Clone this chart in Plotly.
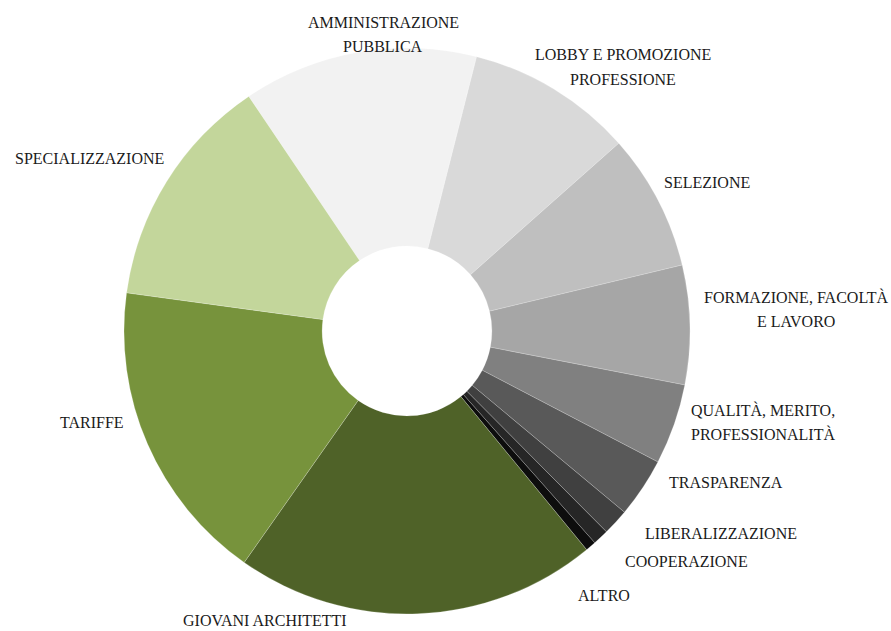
import plotly.graph_objects as go

# Slices, clockwise from "AMMINISTRAZIONE PUBBLICA"
categories = [
    "AMMINISTRAZIONE PUBBLICA",
    "LOBBY E PROMOZIONE PROFESSIONE",
    "SELEZIONE",
    "FORMAZIONE, FACOLTÀ E LAVORO",
    "QUALITÀ, MERITO, PROFESSIONALITÀ",
    "TRASPARENZA",
    "LIBERALIZZAZIONE",
    "COOPERAZIONE",
    "ALTRO",
    "GIOVANI ARCHITETTI",
    "TARIFFE",
    "SPECIALIZZAZIONE",
]
shares = [13.4, 9.5, 7.8, 6.8, 4.6, 3.4, 1.5, 0.9, 0.6, 20.7, 17.4, 13.4]
colors = [
    "#f2f2f2", "#d9d9d9", "#bfbfbf", "#a6a6a6", "#808080", "#595959",
    "#404040", "#262626", "#0d0d0d", "#4f6228", "#77933c", "#c3d69b",
]

# Label lines as drawn next to each slice
label_lines = [
    ["AMMINISTRAZIONE", "PUBBLICA"],
    ["LOBBY E PROMOZIONE", "PROFESSIONE"],
    ["SELEZIONE"],
    ["FORMAZIONE, FACOLTÀ", "E LAVORO"],
    ["QUALITÀ, MERITO,", "PROFESSIONALITÀ"],
    ["TRASPARENZA"],
    ["LIBERALIZZAZIONE"],
    ["COOPERAZIONE"],
    ["ALTRO"],
    ["GIOVANI ARCHITETTI"],
    ["TARIFFE"],
    ["SPECIALIZZAZIONE"],
]
# centre of the first label line, in pixels from the top-left corner
label_px = [
    (383, 22), (623, 55), (707, 183), (796, 297), (763, 410), (726, 482),
    (721, 533), (686, 561), (604, 595), (265, 620), (92, 422), (89, 158),
]

W, H = 891, 631
LINE_GAP = 24
FONT = "'Liberation Serif', 'Times New Roman', serif"

cx, cy, R = 407, 331, 283

fig = go.Figure(
    go.Pie(
        labels=categories,
        values=shares,
        sort=False,
        direction="clockwise",
        rotation=-34,
        hole=0.30,
        textinfo="none",
        hoverinfo="label+percent",
        marker=dict(colors=colors, line=dict(color="rgba(255,255,255,0.35)", width=0.6)),
        domain=dict(x=[(cx - R) / W, (cx + R) / W], y=[1 - (cy + R) / H, 1 - (cy - R) / H]),
        showlegend=False,
    )
)

annotations = []
for lines, (px, py) in zip(label_lines, label_px):
    for i, line in enumerate(lines):
        annotations.append(
            dict(
                text=line,
                x=px / W,
                y=1 - (py + i * LINE_GAP) / H,
                xref="paper",
                yref="paper",
                xanchor="center",
                yanchor="middle",
                showarrow=False,
                font=dict(family=FONT, size=16, color="#1a1a1a"),
            )
        )

fig.update_layout(
    width=W,
    height=H,
    margin=dict(l=0, r=0, t=0, b=0),
    paper_bgcolor="white",
    plot_bgcolor="white",
    annotations=annotations,
)

fig.write_html("out.html")
